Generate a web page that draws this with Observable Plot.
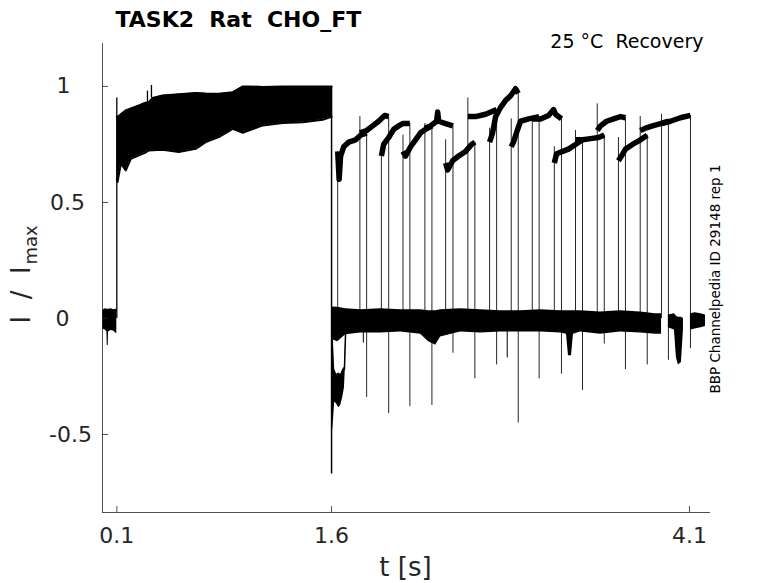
<!DOCTYPE html>
<html><head><meta charset="utf-8">
<script src="https://cdn.jsdelivr.net/npm/d3@7"></script>
<script src="https://cdn.jsdelivr.net/npm/@observablehq/plot@0.6"></script>
<style>
html,body{margin:0;padding:0;background:#fff;}
svg text{white-space:pre;}
</style></head><body><div id="chart"></div>
<script>
// ---------------- ticks & labels ----------------
const xTicks = [0.1, 1.6, 4.1];
const xTickText = ["0.1", "1.6", "4.1"];
const yTicks = [1, 0.5, 0, -0.5];
const yTickText = ["1", "0.5", "0", "-0.5"];
const titleText = "TASK2  Rat  CHO_FT";
const subtitleText = "25 °C  Recovery";
const sideText = "BBP Channelpedia ID 29148 rep 1";
const xLabel = "t [s]";
const yLabelMain = "I  /  I";
const yLabelSub = "max";

// ---------------- baseline before the prepulse (t [s], lower, upper) ----------------
const preT  = [0.000, 0.020, 0.031, 0.033, 0.040, 0.042, 0.060, 0.080, 0.095, 0.100];
const preLo = [-0.045, -0.050, -0.058, -0.116, -0.116, -0.058, -0.052, -0.055, -0.065, -0.065];
const preHi = [0.035, 0.042, 0.040, 0.040, 0.040, 0.040, 0.042, 0.038, 0.040, 0.040];

// ---------------- prepulse envelope of all sweeps ----------------
const pulseT  = [0.100, 0.105, 0.128, 0.163, 0.198, 0.254, 0.300, 0.323, 0.350, 0.419, 0.533, 0.651, 0.721, 0.812, 0.910, 0.980, 1.021, 1.119, 1.259, 1.398, 1.538, 1.594, 1.600];
const pulseLo = [0.600, 0.588, 0.667, 0.638, 0.688, 0.703, 0.715, 0.724, 0.725, 0.727, 0.717, 0.731, 0.760, 0.782, 0.817, 0.800, 0.810, 0.832, 0.842, 0.846, 0.856, 0.868, 0.870];
const pulseHi = [0.870, 0.868, 0.880, 0.897, 0.905, 0.918, 0.930, 0.932, 0.950, 0.961, 0.966, 0.972, 0.970, 0.969, 0.975, 1.000, 1.000, 0.998, 1.000, 1.000, 1.000, 1.000, 1.000];
const pulseSpikeT   = [0.100, 0.314, 0.342];
const pulseSpikeLo  = [0.000, 0.930, 0.950];
const pulseSpikeTop = [0.950, 0.980, 1.004];
const pulseEndT = 1.600, pulseEndTop = 1.000, pulseEndMin = -0.670;

// ---------------- tail current after the prepulse ----------------
const tailT  = [1.601, 1.612, 1.622, 1.636, 1.650, 1.664, 1.678, 1.690, 1.696];
const tailLo = [-0.52, -0.45, -0.36, -0.37, -0.385, -0.375, -0.34, -0.30, -0.22];
const tailHi = [-0.06, -0.08, -0.22, -0.24, -0.235, -0.24, -0.22, -0.21, -0.10];
const tailBackT = [1.690, 1.700];
const tailBackI = [-0.22, -0.02];

// ---------------- baseline between / after test pulses ----------------
const baseT  = [1.601, 1.643, 1.699, 1.803, 1.943, 2.083, 2.222, 2.278, 2.327, 2.362, 2.501, 2.641, 2.781, 2.920, 3.060, 3.199, 3.241, 3.255, 3.276, 3.290, 3.339, 3.478, 3.618, 3.758, 3.863, 3.905];
const baseLo = [-0.09, -0.10, -0.07, -0.062, -0.062, -0.058, -0.068, -0.10, -0.115, -0.08, -0.058, -0.062, -0.058, -0.058, -0.058, -0.062, -0.068, -0.16, -0.16, -0.068, -0.058, -0.068, -0.058, -0.062, -0.068, -0.068];
const baseHi = [0.05, 0.048, 0.042, 0.038, 0.042, 0.038, 0.038, 0.033, 0.033, 0.038, 0.042, 0.038, 0.033, 0.033, 0.038, 0.033, 0.033, 0.033, 0.033, 0.033, 0.033, 0.028, 0.033, 0.028, 0.02, 0.02];
const base2T  = [3.953, 3.995, 4.009, 4.023, 4.044, 4.058];
const base2Lo = [-0.04, -0.05, -0.17, -0.20, -0.19, -0.05];
const base2Hi = [0.015, 0.02, 0.01, 0.005, 0.005, 0.0];
const base3T  = [4.107, 4.140, 4.180, 4.212];
const base3Lo = [-0.05, -0.045, -0.04, -0.035];
const base3Hi = [0.02, 0.025, 0.02, 0.015];
const needleT   = [1.822, 2.827];
const needleMin = [-0.106, -0.17];

// ---------------- test pulses (16 sweeps) ----------------
const testStart = [1.643, 1.798, 1.948, 2.099, 2.252, 2.397, 2.552, 2.704, 2.855, 3.002, 3.156, 3.304, 3.456, 3.604, 3.756, 3.905];
const testEnd   = [1.845, 1.999, 2.147, 2.301, 2.448, 2.601, 2.753, 2.904, 3.050, 3.206, 3.353, 3.505, 3.653, 3.805, 3.953, 4.107];
const testPeak  = [0.72, 0.87, 0.70, 0.79, 0.84, 0.77, 0.95, 0.82, 0.86, 0.853, 0.74, 0.81, 0.925, 0.78, 0.87, 0.88];
const testTail  = [-0.34, -0.41, -0.38, -0.375, -0.15, -0.26, -0.20, -0.45, -0.26, -0.24, -0.31, -0.11, -0.22, -0.20, -0.18, -0.13];
const testT = [
  [1.643, 1.653, 1.663, 1.685, 1.720, 1.768, 1.803, 1.845],
  [1.798, 1.845, 1.887, 1.929, 1.971, 1.999],
  [1.948, 1.964, 1.999, 2.034, 2.069, 2.097, 2.147],
  [2.099, 2.117, 2.152, 2.187, 2.222, 2.257, 2.301],
  [2.252, 2.292, 2.334, 2.341, 2.348, 2.397, 2.448],
  [2.397, 2.411, 2.446, 2.488, 2.536, 2.578, 2.601],
  [2.552, 2.606, 2.676, 2.753],
  [2.704, 2.725, 2.746, 2.781, 2.816, 2.851, 2.885, 2.904],
  [2.855, 2.871, 2.897, 2.920, 2.976, 3.050],
  [3.002, 3.060, 3.116, 3.151, 3.165, 3.206],
  [3.156, 3.172, 3.214, 3.255, 3.304, 3.353],
  [3.304, 3.353, 3.409, 3.465, 3.505],
  [3.456, 3.479, 3.521, 3.570, 3.618, 3.653],
  [3.604, 3.625, 3.653, 3.702, 3.758, 3.805],
  [3.756, 3.793, 3.842, 3.898, 3.953],
  [3.905, 3.967, 4.037, 4.107]
];
const testI = [
  [0.72, 0.60, 0.70, 0.74, 0.76, 0.77, 0.79, 0.80],
  [0.80, 0.81, 0.83, 0.85, 0.875, 0.87],
  [0.70, 0.75, 0.78, 0.815, 0.83, 0.84, 0.84],
  [0.72, 0.70, 0.74, 0.77, 0.80, 0.815, 0.83],
  [0.82, 0.83, 0.85, 0.89, 0.85, 0.84, 0.83],
  [0.67, 0.64, 0.68, 0.70, 0.72, 0.75, 0.76],
  [0.87, 0.87, 0.88, 0.90],
  [0.76, 0.80, 0.87, 0.91, 0.94, 0.96, 0.99, 0.97],
  [0.74, 0.76, 0.81, 0.85, 0.86, 0.87],
  [0.86, 0.86, 0.875, 0.90, 0.88, 0.86],
  [0.67, 0.71, 0.72, 0.73, 0.75, 0.77],
  [0.77, 0.77, 0.775, 0.78, 0.79],
  [0.81, 0.83, 0.85, 0.86, 0.87, 0.865],
  [0.68, 0.70, 0.73, 0.75, 0.77, 0.79],
  [0.81, 0.82, 0.83, 0.84, 0.85],
  [0.84, 0.85, 0.865, 0.875]
];

// ---------------- layout ----------------
const W = 778, H = 583;
const M = {top: 43, right: 68, bottom: 71, left: 102};
const xDomain = [0, 4.247];
const yDomain = [-0.836, 1.185];
const pxY = (yDomain[1] - yDomain[0]) / (H - M.top - M.bottom);
const pxX = (xDomain[1] - xDomain[0]) / (W - M.left - M.right);
const yLabelCenters = [63, 67, 62, 70];
const FONT = "DejaVu Sans";
const AXC = "#262626";

const band = (t, lo, hi, seg) => t.map((d, i) => ({t: d, lo: lo[i], hi: hi[i], seg}));
const baseRows = [...band(preT, preLo, preHi, "a"), ...band(baseT, baseLo, baseHi, "b"), ...band(base2T, base2Lo, base2Hi, "c"), ...band(base3T, base3Lo, base3Hi, "d")];
const pulseRows = band(pulseT, pulseLo, pulseHi, "p");
const tailRows = band(tailT, tailLo, tailHi, "t");
const testRows = testT.flatMap((ts, k) => ts.map((t, i) => ({t, v: testI[k][i], k})));
const riseRows = testStart.map((t, k) => ({t, y1: 0, y2: testPeak[k]}));
const fallRows = testEnd.map((t, k) => ({t, y1: testTail[k], y2: testI[k][testI[k].length - 1]}));
const spikeRows = pulseSpikeT.map((t, i) => ({t, y1: pulseSpikeLo[i], y2: pulseSpikeTop[i]}));
const needleRows = needleT.map((t, i) => ({t, y1: needleMin[i], y2: 0}));

const at = (px, py) => ({frameAnchor: "top-left", dx: px - M.left, dy: py - M.top});

const chart = Plot.plot({
  width: W, height: H,
  marginTop: M.top, marginRight: M.right, marginBottom: M.bottom, marginLeft: M.left,
  x: {domain: xDomain, axis: null},
  y: {domain: yDomain, axis: null},
  style: {fontFamily: FONT, background: "white", overflow: "visible"},
  marks: [
    // baseline noise bands
    Plot.areaY(baseRows, {x: "t", y1: "lo", y2: "hi", z: "seg", fill: "black"}),
    Plot.areaY(tailRows, {x: "t", y1: "lo", y2: "hi", fill: "black"}),
    Plot.lineY(tailBackT.map((t, i) => ({t, v: tailBackI[i]})), {x: "t", y: "v", stroke: "black", strokeWidth: 1.5}),
    // prepulse band
    Plot.areaY(pulseRows, {x: "t", y1: "lo", y2: "hi", fill: "black"}),
    Plot.lineY(pulseRows, {x: "t", y: "lo", stroke: "black", strokeWidth: 2}),
    Plot.lineY(pulseRows, {x: "t", y: "hi", stroke: "black", strokeWidth: 2}),
    Plot.ruleX(spikeRows, {x: "t", y1: "y1", y2: "y2", stroke: "black", strokeWidth: 1.3}),
    Plot.ruleX([pulseEndT], {y1: pulseEndMin, y2: pulseEndTop, stroke: "black", strokeWidth: 1.5}),
    Plot.ruleX(needleRows, {x: "t", y1: "y1", y2: "y2", stroke: "black", strokeWidth: 1}),
    // test pulses
    Plot.ruleX(riseRows, {x: "t", y1: "y1", y2: "y2", stroke: "black", strokeWidth: 1, strokeOpacity: 0.85}),
    Plot.ruleX(fallRows, {x: "t", y1: "y1", y2: "y2", stroke: "black", strokeWidth: 1, strokeOpacity: 0.85}),
    Plot.lineY(testRows, {x: "t", y: "v", z: "k", stroke: "black", strokeWidth: 5.5, strokeLinecap: "butt", strokeLinejoin: "round"}),
    // axes
    Plot.ruleX([xDomain[0]], {y1: yDomain[0], y2: yDomain[1], stroke: AXC, strokeWidth: 0.8}),
    Plot.ruleY([yDomain[0]], {x1: xDomain[0], x2: xDomain[1], stroke: AXC, strokeWidth: 0.8}),
    Plot.ruleX(xTicks, {y1: yDomain[0], y2: yDomain[0] + 6 * pxY, stroke: AXC, strokeWidth: 0.8}),
    Plot.ruleY(yTicks, {x1: xDomain[0], x2: xDomain[0] + 6 * pxX, stroke: AXC, strokeWidth: 0.8}),
    Plot.text(xTicks, {x: d => d, frameAnchor: "bottom", text: (d, i) => xTickText[i], dy: 30, lineAnchor: "bottom", textAnchor: "middle", fontSize: 22, fill: AXC}),
    ...yTicks.map((v, i) => Plot.text([yTickText[i]], {x: xDomain[0], y: v, text: d => d, dx: yLabelCenters[i] - M.left, textAnchor: "middle", lineAnchor: "middle", fontSize: 22, fill: AXC})),
    // titles and labels
    Plot.text([titleText], {...at(115, 26), text: d => d, textAnchor: "start", lineAnchor: "bottom", fontSize: 22, fontWeight: "bold", fill: "black"}),
    Plot.text([subtitleText], {...at(703, 47), text: d => d, textAnchor: "end", lineAnchor: "bottom", fontSize: 19, fill: "black"}),
    Plot.text([sideText], {...at(719, 278.5), text: d => d, rotate: -90, textAnchor: "middle", lineAnchor: "bottom", fontSize: 13.5, fill: "black"}),
    Plot.text([xLabel], {...at(405, 575), text: d => d, textAnchor: "middle", lineAnchor: "bottom", fontSize: 26, fill: AXC}),
    Plot.text([yLabelMain], {...at(29, 323), text: d => d, rotate: -90, textAnchor: "start", lineAnchor: "bottom", fontSize: 26, fill: AXC}),
    Plot.text([yLabelSub], {...at(36, 264), text: d => d, rotate: -90, textAnchor: "start", lineAnchor: "bottom", fontSize: 18, fill: AXC})
  ]
});
document.getElementById("chart").appendChild(chart);
</script>
</body></html>
